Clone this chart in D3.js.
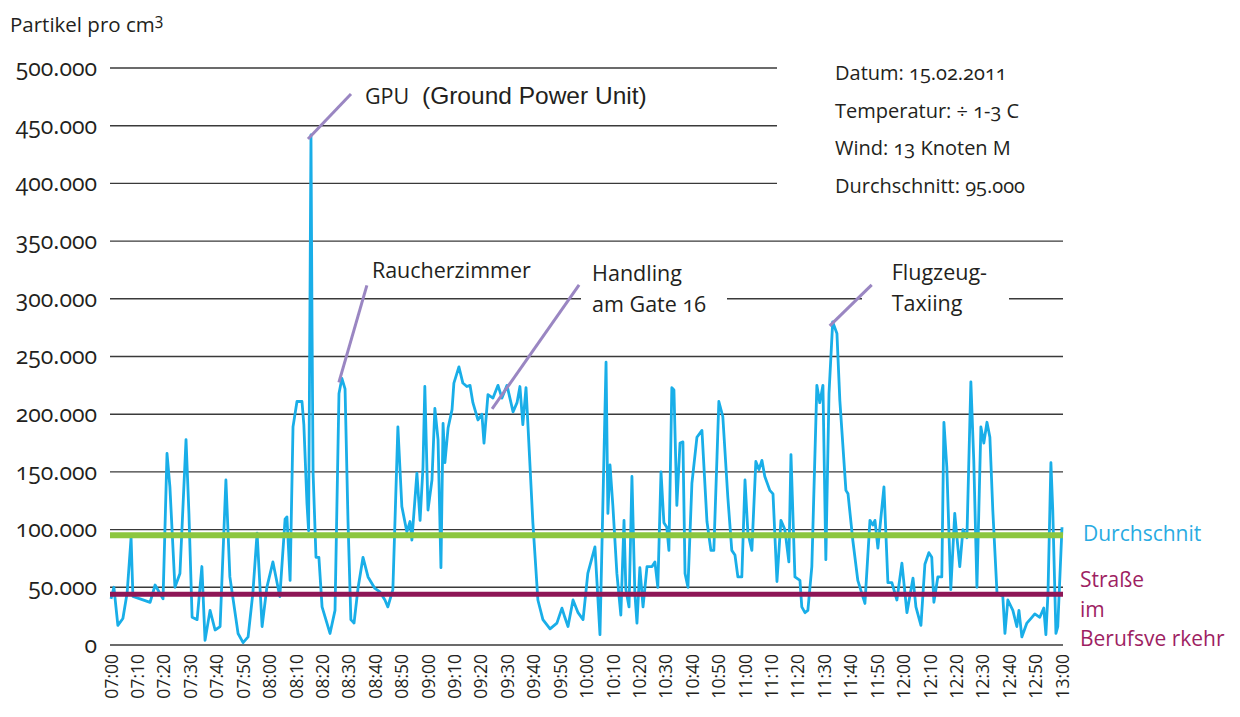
<!DOCTYPE html>
<html>
<head>
<meta charset="utf-8">
<script src="https://cdn.jsdelivr.net/npm/d3@7"></script>
<style>
    body { margin: 0; background: #fff; }
    text { font-family: "Open Sans", Lato, sans-serif; fill: #231f20; font-variant-numeric: oldstyle-nums; }
    .yax text { font-feature-settings: "onum" 1; font-variant-numeric: oldstyle-nums; }
    .xax text { font-feature-settings: "lnum" 1; font-variant-numeric: lining-nums; }
</style>
</head>
<body>
<div id="chart"></div>
<script>

// x tick labels, every 10 minutes from 07:00
var timeLabels = ["07:00","07:10","07:20","07:30","07:40","07:50","08:00","08:10","08:20","08:30",
    "08:40","08:50","09:00","09:10","09:20","09:30","09:40","09:50","10:00","10:10",
    "10:20","10:30","10:40","10:50","11:00","11:10","11:20","11:30","11:40","11:50",
    "12:00","12:10","12:20","12:30","12:40","12:50","13:00"];

var yTicks = [0, 50, 100, 150, 200, 250, 300, 350, 400, 450, 500]; // thousands

// minutes after 07:00
var minutes = [
    0,1.1,2.6,4.5,6.1,7.6,8.3,11,14.8,16.7,
    19.7,21.2,22.3,24.2,26.1,28.4,29.5,30.7,32.6,34.4,
    35.6,37.5,39.4,41.3,43.5,45,48.1,50,51.9,53.7,
    55.3,57.2,59,61.3,63.9,65.9,66.6,67.8,68.9,70.4,
    72.3,73,74.2,74.8,75.7,76.1,76.5,77.6,78.7,79.9,
    82.9,84.8,86.3,87.4,88.6,89.7,90.8,92,93.5,95.4,
    97.3,99.9,101.8,103.7,104.8,106.7,108.6,110.1,112,113.2,
    113.9,115.8,117,118.1,118.8,120,121.5,122.6,123.8,124.9,
    125.7,126.4,127.6,129.1,129.8,131.7,133.2,134.7,135.9,137,
    138.9,140.4,141.2,142.7,144.6,146.5,148,149.9,152.2,153.7,
    154.8,155.9,157.1,157.8,159.7,161.6,163.5,166.2,168.8,170.7,
    171.8,173,174.9,176.8,178.7,180.5,183.2,185.1,187.4,188.1,
    188.9,190,191.5,193,194.2,194.9,196.1,197.2,198.3,199.1,
    200.2,201.4,202.9,204.8,205.9,207,208.2,209.3,210.4,211.2,
    212.3,213.1,214.2,215.4,216.5,217.3,218.4,219.9,221.8,223.7,
    225.6,227.1,228.2,229.4,230.1,231.6,233.5,235,236.2,237.3,
    238.8,240,241.1,242.6,244.1,245.3,246.4,247.5,249.4,250.6,
    252.1,253.6,255.1,256.6,257.4,258.9,260.8,261.5,262.7,263.8,
    265.3,267.2,268.3,269.5,270.6,271.8,273.2,274.8,275.9,278.2,
    279,280.8,282.7,285.4,287.3,288.4,289.2,290.3,292.6,294.1,
    295.6,297.5,299.4,301.3,303.6,304.7,306.6,308.1,309.6,310.7,
    311.5,313,314.5,315.3,316.4,317.9,319.4,320.2,321.3,322.5,
    324,325.5,326.6,327.8,329.3,330.4,331.6,332.7,333.8,335.4,
    337.6,338.4,339.5,341.4,342.9,343.7,344.8,346.7,348.6,349.7,
    351.6,353.1,353.9,354.7,355.8,356.5,357.7,358.4,360];

// particles per cm3, in thousands
var particles = [
    40,50,17,23,45,93,42,40,37,52,
    40,166,137,50,62,178,114,24,22,68,
    4,30,13,16,143,59,10,2,7,45,
    97,16,50,72,42,109,111,56,189,211,
    211,191,122,99,442,275,149,76,76,33,
    10,30,218,231,222,109,22,19,49,76,
    59,49,46,39,33,48,189,120,98,107,
    91,149,108,154,224,117,143,205,178,67,
    192,158,188,204,227,241,227,224,225,210,
    195,200,175,217,214,225,214,225,202,210,
    224,191,223,192,106,39,22,14,19,32,
    24,16,39,28,22,62,85,9,245,114,
    156,120,62,26,108,48,33,146,45,19,
    67,33,68,68,72,50,150,106,102,82,
    223,221,121,175,176,62,50,140,180,186,
    107,82,82,163,211,198,128,82,78,59,
    59,143,97,82,159,152,160,146,134,131,
    55,108,100,72,165,59,56,33,28,30,
    68,225,210,225,74,218,280,270,212,134,
    131,91,56,36,108,104,108,84,137,54,
    54,39,71,28,58,33,17,70,80,76,
    37,59,59,193,154,48,114,94,68,100,
    93,228,160,50,189,175,193,180,117,45,
    42,10,39,30,16,30,7,19,24,27,
    24,32,9,45,158,117,10,16,102];

var averageLevel = 95;   // Durchschnitt
var roadLevel = 44;      // Straße im Berufsverkehr

var infoLines = ["Datum: 15.02.2011", "Temperatur: \u00f7 1-3 C", "Wind: 13 Knoten M", "Durchschnitt: 95.000"];

// annotations anchored on data (minute, value)
var notes = [
    {lines: ["GPU"], t: 75.7, v: 442},
    {lines: ["Raucherzimmer"], t: 87.4, v: 231},
    {lines: ["Handling", "am Gate 16"], t: 145.4, v: 208},
    {lines: ["Flugzeug-", "Taxiing"], t: 273.2, v: 280}
];

var width = 1240, height = 717;
var margin = {top: 68, right: 178, bottom: 72, left: 111};

var de = d3.formatLocale({decimal: ",", thousands: ".", grouping: [3], currency: ["", " €"]});
var fmt = de.format(",");

var x = d3.scaleLinear().domain([0, 360]).range([margin.left, width - margin.right]);
var y = d3.scaleLinear().domain([0, 500]).range([height - margin.bottom, margin.top]);

var svg = d3.select("#chart").append("svg")
    .attr("width", width)
    .attr("height", height);

//title
var title = svg.append("text").attr("x", 10).attr("y", 32).style("font-size", "20.5px");
title.append("tspan").text("Partikel pro cm");
title.append("tspan").attr("dy", -7).style("font-size", "16px").text("3");

//gridlines
svg.append("g").selectAll("line")
    .data(yTicks)
    .enter().append("line")
    .attr("x1", margin.left - 1)
    .attr("x2", width - margin.right + 1)
    .attr("y1", function(d) { return y(d); })
    .attr("y2", function(d) { return y(d); })
    .attr("stroke", "#3a3a3a")
    .attr("stroke-width", 1.4);

//y labels
var yAxis = d3.axisLeft(y).tickValues(yTicks).tickSize(0).tickPadding(14)
    .tickFormat(function(d) { return fmt(d * 1000); });
var gy = svg.append("g").attr("class", "yax")
    .attr("transform", "translate(" + margin.left + ",0)").call(yAxis);
gy.select(".domain").remove();
gy.attr("font-family", null).attr("font-size", null);
gy.selectAll("text")
    .style("font-size", "23px")
    .attr("fill", "#231f20");

//x labels
var xAxis = d3.axisBottom(x).tickValues(d3.range(0, 361, 10)).tickSize(0)
    .tickFormat(function(d, i) { return timeLabels[i]; });
var gx = svg.append("g").attr("class", "xax")
    .attr("transform", "translate(0," + y(0) + ")").call(xAxis);
gx.select(".domain").remove();
gx.attr("font-family", null).attr("font-size", null);
gx.selectAll("text")
    .attr("transform", "rotate(-90)")
    .attr("text-anchor", "end")
    .attr("x", -9)
    .attr("y", 0)
    .attr("dy", "0.35em")
    .attr("fill", "#231f20")
    .style("font-size", "17.5px");

//white boxes behind the texts that cut the gridlines
svg.append("rect").attr("x", 777).attr("y", 55).attr("width", 300).attr("height", 150).attr("fill", "#fff");
svg.append("rect").attr("x", 581).attr("y", 265).attr("width", 146).attr("height", 60).attr("fill", "#fff");
svg.append("rect").attr("x", 862).attr("y", 265).attr("width", 147).attr("height", 60).attr("fill", "#fff");

//info
svg.append("g").selectAll("text")
    .data(infoLines)
    .enter().append("text")
    .attr("x", 835)
    .attr("y", function(d, i) { return 80 + i * 37.7; })
    .style("font-size", "20px")
    .text(function(d) { return d; });

//data line
var series = minutes.map(function(t, i) { return {t: t, v: particles[i]}; });
var line = d3.line().x(function(d) { return x(d.t); }).y(function(d) { return y(d.v); });
svg.append("path")
    .datum(series)
    .attr("fill", "none")
    .attr("stroke", "#19aee8")
    .attr("stroke-width", 2.8)
    .attr("stroke-linejoin", "round")
    .attr("d", line);

//reference lines
svg.append("line")
    .attr("x1", margin.left - 1).attr("x2", width - margin.right + 1)
    .attr("y1", y(averageLevel)).attr("y2", y(averageLevel))
    .attr("stroke", "#8cc63f").attr("stroke-width", 6);
svg.append("line")
    .attr("x1", margin.left - 1).attr("x2", width - margin.right + 1)
    .attr("y1", y(roadLevel)).attr("y2", y(roadLevel))
    .attr("stroke", "#8e1656").attr("stroke-width", 5);

//annotations: leader offset and text position relative to the anchor
var leader = [[40, -41], [25, -93], [84, -120], [39, -37]];
var labelPos = [[54, -31], [30, -100], [97, -124], [59, -42]];
notes.forEach(function(n, i) {
    var ax = x(n.t), ay = y(n.v);
    svg.append("line")
        .attr("x1", ax - 3).attr("y1", ay + 4)
        .attr("x2", ax + leader[i][0]).attr("y2", ay + leader[i][1])
        .attr("stroke", "#9a86c2").attr("stroke-width", 3);
    n.lines.forEach(function(s, j) {
        svg.append("text")
            .attr("x", ax + labelPos[i][0])
            .attr("y", ay + labelPos[i][1] + j * 31)
            .style("font-size", "21.5px")
            .text(s);
    });
});
svg.append("text")
    .attr("x", 422).attr("y", 104)
    .style("font-family", "'Liberation Sans', Arial, sans-serif")
    .style("font-size", "24.5px")
    .attr("fill", "#000")
    .text("(Ground Power Unit)");

//right side labels
svg.append("text").attr("x", 1083).attr("y", 541)
    .style("font-size", "21px").style("fill", "#29abe2").text("Durchschnit");
["Stra\u00dfe", "im", "Berufsve rkehr"].forEach(function(s, i) {
    svg.append("text").attr("x", 1080).attr("y", 587 + i * 29.5)
        .style("font-size", "21px").style("fill", "#9e1f63").text(s);
});

</script>
</body>
</html>
